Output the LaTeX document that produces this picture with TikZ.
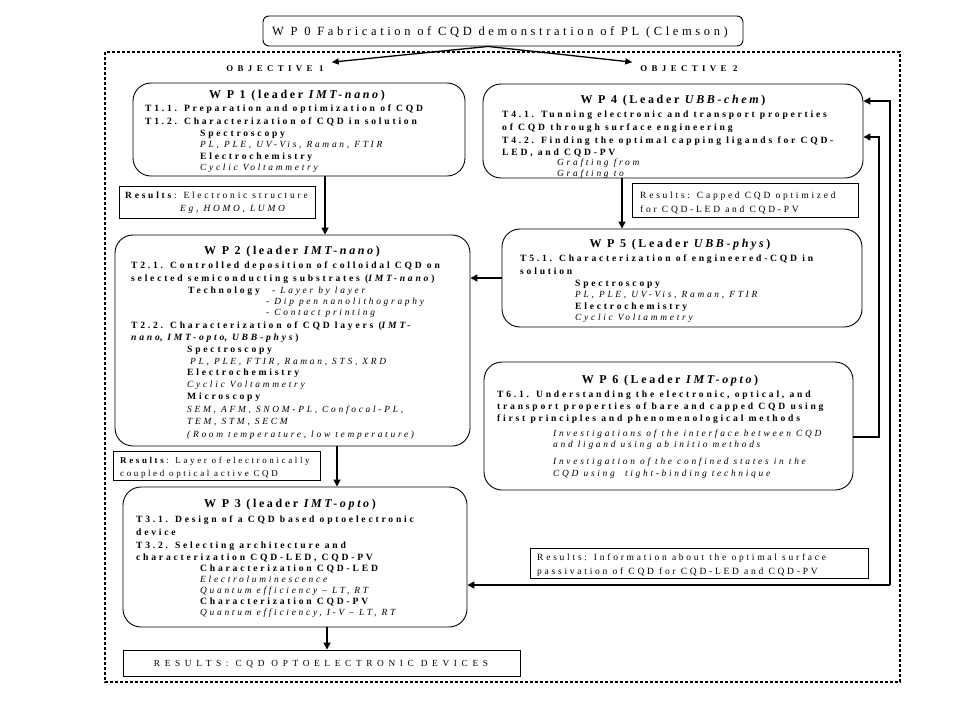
\documentclass[tikz,border=0pt]{standalone}
\usepackage{fontspec}
\setmainfont{Liberation Serif}
\newfontfamily\lsbody{Liberation Serif}[LetterSpace=29]
\newfontfamily\lstitle{Liberation Serif}[LetterSpace=22]
\newfontfamily\lswide{Liberation Serif}[LetterSpace=50]
\usetikzlibrary{arrows.meta,calc}
\tikzset{
 wpbox/.style={draw, line width=0.9pt, rounded corners=18pt, inner sep=0pt},
 resbox/.style={draw, line width=0.9pt, inner sep=0pt},
 ttl/.style={anchor=base, inner sep=0pt, font=\lstitle\bfseries\fontsize{12}{13}\selectfont},
 tb/.style={anchor=base west, inner sep=0pt, font=\lsbody\bfseries\fontsize{9.6}{10}\selectfont},
 ti/.style={anchor=base west, inner sep=0pt, font=\lsbody\itshape\fontsize{9.4}{10}\selectfont},
 tr/.style={anchor=base west, inner sep=0pt, font=\lsbody\fontsize{9.5}{10}\selectfont},
 trs/.style={anchor=base west, inner sep=0pt, font=\lsbody\fontsize{9}{10}\selectfont},
 obj/.style={anchor=base, inner sep=0pt, font=\lswide\bfseries\fontsize{8.8}{9}\selectfont},
 arr/.style={line width=1.6pt, -{Triangle[length=7pt,width=7pt]}},
 arrs/.style={line width=1.3pt, -{Triangle[length=7pt,width=6pt]}},
}
\begin{document}
\begin{tikzpicture}[x=1pt,y=-1pt]
\useasboundingbox (0,0) rectangle (960,720);
% outer dashed frame
\draw[dashed, dash pattern=on 3pt off 2pt, line width=1.2pt] (105,52) rectangle (900,682);
% WP0
\node[wpbox, rounded corners=6pt, minimum width=480, minimum height=30, fill=white] (wp0) at (503,31) {};
\node[anchor=base, inner sep=0pt, font=\lsbody\fontsize{12.5}{13}\selectfont] (wp0t) at (500,35) {W P 0 Fabrication of CQD demonstration of PL (Clemson)};
\node[obj] (ob1) at (275,71) {OBJECTIVE 1};
\node[obj] (ob2) at (689,71) {OBJECTIVE 2};
\draw[arrs] ([xshift=-15pt]wp0.south) -- ([xshift=8pt,yshift=6pt]ob1.east);
\draw[arrs] ([xshift=-15pt]wp0.south) -- ([xshift=-8pt,yshift=6pt]ob2.west);

% WP1
\node[wpbox, minimum width=332, minimum height=93] (wp1) at (299,129.5) {};
\node[ttl] (w1t) at (297,98) {W P 1 (leader \textit{IMT-nano})};
\node[tb] (w1a) at (145,111) {T1.1. Preparation and optimization of CQD};
\node[tb] (w1b) at (145,124) {T1.2. Characterization of CQD in solution};
\node[tb] (w1c) at (200,136) {Spectroscopy};
\node[ti] (w1d) at (200,147) {PL, PLE, UV-Vis, Raman, FTIR};
\node[tb] (w1e) at (200,159) {Electrochemistry};
\node[ti] (w1f) at (200,170) {Cyclic Voltammetry};

% Results 1
\node[resbox, minimum width=196, minimum height=32] (r1) at (217,202) {};
\node[tr] (r1a) at (125,198) {\textbf{Results}: Electronic structure};
\node[ti] (r1b) at (180,211) {Eg, HOMO, LUMO};

% WP4
\node[wpbox, minimum width=380, minimum height=94] (wp4) at (673,131) {};
\node[ttl] (w4t) at (673,103) {W P 4 (Leader \textit{UBB-chem})};
\node[tb] (w4a) at (502,117) {T4.1. Tunning electronic and transport properties};
\node[tb] (w4b) at (502,130) {of CQD through surface engineering};
\node[tb] (w4c) at (502,143) {T4.2. Finding the optimal capping ligands for CQD-};
\node[tb] (w4d) at (502,155) {LED, and CQD-PV};
\node[ti] (w4e) at (557,165) {Grafting from};
\node[ti] (w4f) at (557,176) {Grafting to};

% Results 4
\node[resbox, minimum width=226, minimum height=34] (r4) at (745,200) {};
\node[tr] (r4a) at (640,198) {Results: Capped CQD optimized};
\node[tr] (r4b) at (640,212) {for CQD-LED and CQD-PV};

% WP5
\node[wpbox, minimum width=360, minimum height=98] (wp5) at (682,278) {};
\node[ttl] (w5t) at (680,247) {W P 5 (Leader \textit{UBB-phys})};
\node[tb] (w5a) at (520,261) {T5.1. Characterization of engineered-CQD in};
\node[tb] (w5b) at (520,274) {solution};
\node[tb] (w5c) at (575,286) {Spectroscopy};
\node[ti] (w5d) at (575,297) {PL, PLE, UV-Vis, Raman, FTIR};
\node[tb] (w5e) at (575,309) {Electrochemistry};
\node[ti] (w5f) at (575,320) {Cyclic Voltammetry};

% WP2
\node[wpbox, minimum width=355, minimum height=211] (wp2) at (292.5,340.5) {};
\node[ttl] (w2t) at (292,254) {W P 2 (leader \textit{IMT-nano})};
\node[tb] (w2a) at (131,268) {T2.1. Controlled deposition of colloidal CQD on};
\node[tb] (w2b) at (131,281) {selected semiconducting substrates (\textit{IMT-nano})};
\node[tb] (w2c) at (188,293) {Technology};
\node[ti] (w2d) at (272,293) {\upshape- \itshape Layer by layer};
\node[ti] (w2e) at (266,304) {\upshape- \itshape Dip pen nanolithography};
\node[ti] (w2f) at (266,315) {\upshape- \itshape Contact printing};
\node[tb] (w2g) at (131,328) {T2.2. Characterization of CQD layers (\textit{IMT-}};
\node[tb] (w2h) at (131,340) {\textit{nano}, \textit{IMT-opto}, \textit{UBB-phys})};
\node[tb] (w2i) at (187,352) {Spectroscopy};
\node[ti] (w2j) at (190,364) {PL, PLE, FTIR, Raman, STS, XRD};
\node[tb] (w2k) at (187,375) {Electrochemistry};
\node[ti] (w2l) at (187,387) {Cyclic Voltammetry};
\node[tb] (w2m) at (187,399) {Microscopy};
\node[ti] (w2n) at (187,412) {SEM, AFM, SNOM-PL, Confocal-PL,};
\node[ti] (w2o) at (187,424) {TEM, STM, SECM};
\node[ti] (w2p) at (187,437) {(Room temperature, low temperature)};

% Results 2
\node[resbox, minimum width=207, minimum height=29] (r2) at (216.5,465.5) {};
\node[trs] (r2a) at (120,463) {\textbf{Results}: Layer of electronically};
\node[trs] (r2b) at (120,476) {coupled optical active CQD};

% WP6
\node[wpbox, minimum width=369, minimum height=128] (wp6) at (668.5,426) {};
\node[ttl] (w6t) at (670,383) {W P 6 (Leader \textit{IMT-opto})};
\node[tb] (w6a) at (497,397) {T6.1. Understanding the electronic, optical, and};
\node[tb] (w6b) at (497,409) {transport properties of bare and capped CQD using};
\node[tb] (w6c) at (497,421) {first principles and phenomenological methods};
\node[ti] (w6d) at (553,436) {Investigations of the interface between CQD};
\node[ti] (w6e) at (553,447) {and ligand using ab initio methods};
\node[ti] (w6f) at (553,464) {Investigation of the confined states in the};
\node[ti] (w6g) at (553,476) {CQD using \ tight-binding technique};

% WP3
\node[wpbox, minimum width=344, minimum height=140] (wp3) at (295,557) {};
\node[ttl] (w3t) at (290,507) {W P 3 (leader \textit{IMT-opto})};
\node[tb] (w3a) at (136,522) {T3.1. Design of a CQD based optoelectronic};
\node[tb] (w3b) at (136,535) {device};
\node[tb] (w3c) at (136,548) {T3.2. Selecting architecture and};
\node[tb] (w3d) at (136,560) {characterization CQD-LED, CQD-PV};
\node[tb] (w3e) at (200,571) {Characterization CQD-LED};
\node[ti] (w3f) at (200,582) {Electroluminescence};
\node[ti] (w3g) at (200,593) {Quantum efficiency – LT, RT};
\node[tb] (w3h) at (200,604) {Characterization CQD-PV};
\node[ti] (w3i) at (200,615) {Quantum efficiency, I-V – LT, RT};

% Results 6
\node[resbox, minimum width=338, minimum height=30] (r6) at (699,563) {};
\node[tr] (r6a) at (537,560) {Results: Information about the optimal surface};
\node[tr] (r6b) at (537,574) {passivation of CQD for CQD-LED and CQD-PV};

% Final results
\node[resbox, minimum width=397, minimum height=26] (rf) at (321.5,663) {};
\node[anchor=base, inner sep=0pt, font=\lswide\fontsize{9.3}{10}\selectfont] (rft) at (321,666.5) {RESULTS: CQD OPTOELECTRONIC DEVICES};

% connectors
\coordinate (kx) at (879,0);
\coordinate (ky) at (890,0);
\draw[arr] ([xshift=26pt]wp1.south) -- ([xshift=26pt]wp1.south |- wp2.north);
\draw[arr] ([xshift=-51pt]wp4.south) -- ([xshift=-51pt]wp4.south |- wp5.north);
\draw[arr] (wp5.west) -- (wp5.west -| wp2.east);
\draw[arr] ([xshift=44.5pt]wp2.south) -- ([xshift=44.5pt]wp2.south |- wp3.north);
\draw[arr] ([xshift=32pt]wp3.south) -- ([xshift=32pt]wp3.south |- rf.north);
\draw[arr] ([yshift=-11pt]wp6.east) -| ([yshift=-6pt]wp4.east -| kx) -- ([yshift=-6pt]wp4.east);
\draw[arr] ([yshift=-28pt]wp3.east -| ky) |- ([yshift=30pt]wp4.east);
\draw[arr] ([yshift=-28pt]wp3.east -| ky) -- ([yshift=-28pt]wp3.east);
\end{tikzpicture}
\end{document}
